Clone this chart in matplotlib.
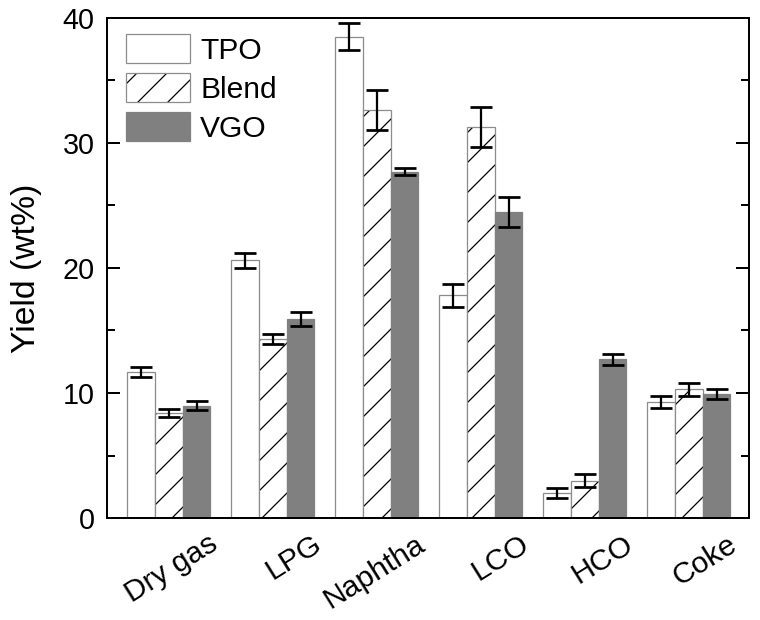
import numpy as np
import matplotlib
matplotlib.use("Agg")
import matplotlib.pyplot as plt
from matplotlib.transforms import ScaledTranslation

plt.rcParams["font.family"] = ["Liberation Sans", "DejaVu Sans"]
plt.rcParams["hatch.linewidth"] = 0.5

# Data (wt%)
products = ["Dry gas", "LPG", "Naphtha", "LCO", "HCO", "Coke"]
tpo = [11.7, 20.6, 38.5, 17.8, 2.0, 9.3]
tpo_err = [0.4, 0.6, 1.1, 0.9, 0.4, 0.5]
blend = [8.4, 14.3, 32.6, 31.3, 3.0, 10.3]
blend_err = [0.3, 0.4, 1.6, 1.6, 0.5, 0.5]
vgo = [9.0, 15.9, 27.7, 24.5, 12.7, 9.9]
vgo_err = [0.35, 0.55, 0.3, 1.2, 0.45, 0.4]


def main():
    dpi = 180
    fig = plt.figure(figsize=(760 / dpi, 620 / dpi), dpi=dpi)
    ax = fig.add_axes([0.1408, 0.1645, 0.8447, 0.8065])

    x = np.arange(len(products))
    w = 0.266
    edge = "#8c8c8c"
    grey = "#808080"

    b1 = ax.bar(x - w, tpo, w, color="white", edgecolor=edge, linewidth=0.5)
    b2h = ax.bar(x, blend, w, color="white", edgecolor="black", linewidth=0,
                 hatch="//")
    b2e = ax.bar(x, blend, w, fill=False, edgecolor=edge, linewidth=0.5)
    b3 = ax.bar(x + w, vgo, w, color=grey, edgecolor=grey, linewidth=0.5)

    for xs, ys, es in [(x - w, tpo, tpo_err), (x, blend, blend_err),
                       (x + w, vgo, vgo_err)]:
        ax.errorbar(xs, ys, yerr=es, fmt="none", ecolor="black",
                    elinewidth=0.9, capsize=4.4, capthick=1.1, zorder=3)

    ax.set_xlim(-0.595, 5.578)
    ax.set_ylim(0, 40)
    ax.set_yticks([0, 10, 20, 30, 40])
    ax.set_yticks([5, 15, 25, 35], minor=True)
    ax.tick_params(axis="y", which="major", direction="in", length=5.2,
                   width=0.8, labelsize=11.5, pad=5, right=True)
    ax.tick_params(axis="y", which="minor", direction="in", length=3.1,
                   width=0.8, right=True)
    ax.set_ylabel("Yield (wt%)", fontsize=13.5, labelpad=8)

    ax.set_xticks(x)
    ax.set_xticklabels(products, fontsize=12, rotation=32, ha="right",
                       va="center", rotation_mode="anchor")
    ax.tick_params(axis="x", length=0, pad=9.5)
    offset = ScaledTranslation(46 / dpi, 0, fig.dpi_scale_trans)
    for lbl in ax.get_xticklabels():
        lbl.set_transform(lbl.get_transform() + offset)

    for s in ax.spines.values():
        s.set_linewidth(0.8)

    ax.legend([b1, (b2h, b2e), b3], ["TPO", "Blend", "VGO"],
              loc="upper left", bbox_to_anchor=(0.029, 0.968),
              frameon=False, fontsize=12, borderpad=0, borderaxespad=0,
              handlelength=2.14, handleheight=1.1, handletextpad=0.35,
              labelspacing=0.28)

    fig.savefig("out.png", dpi=dpi)


if __name__ == "__main__":
    main()
